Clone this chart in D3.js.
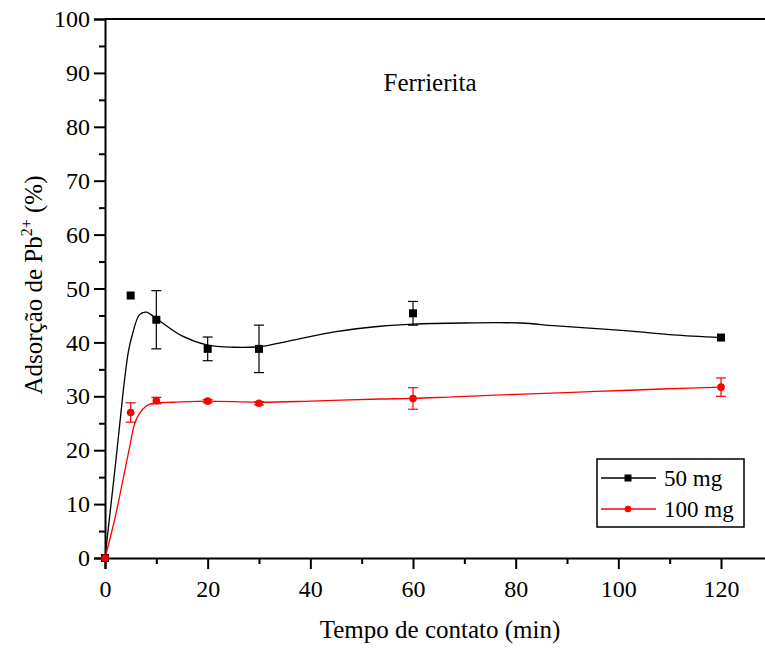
<!DOCTYPE html>
<html>
<head>
<meta charset="utf-8">
<script src="https://cdn.jsdelivr.net/npm/d3@7"></script>
</head>
<body style="margin:0;padding:0;background:#fff">
<svg id="chart" width="765" height="650" style="display:block;font-family:'Liberation Serif',serif"></svg>
<script>
// ---- data ----
const times = [0, 5, 10, 20, 30, 60, 120];
const ads50 = [0, 48.7, 44.2, 38.8, 38.8, 45.4, 40.9];
const err50 = [0, 0, 5.4, 2.2, 4.4, 2.2, 0];
const ads100 = [0, 27.0, 29.2, 29.1, 28.7, 29.6, 31.7];
const err100 = [0, 1.8, 0.6, 0.3, 0.3, 2.0, 1.7];

// fitted curves
const fit50X = [0, 1, 2, 3, 3.8, 4.6, 5.4, 6.7, 8, 10.3, 15, 20, 25, 30, 36, 45, 53.6, 60, 70, 81, 87.4, 96.5, 103.6, 110.7, 120];
const fit50Y = [0, 8.5, 17, 26, 33, 38.5, 41.7, 45.1, 45.6, 44.2, 41.2, 39.5, 39.1, 39.2, 40.3, 42.0, 43.0, 43.4, 43.6, 43.6, 43.1, 42.5, 42.0, 41.4, 40.9];
const fit100X = [0, 1.85, 3.5, 4.8, 5.8, 6.7, 8.4, 10.3, 13.2, 20, 30, 40, 53.6, 60, 67.9, 81.5, 95.8, 110.1, 120];
const fit100Y = [0, 7, 14.5, 20.6, 25, 26.8, 28.4, 28.8, 28.9, 29.1, 28.9, 29.1, 29.5, 29.6, 29.9, 30.4, 30.9, 31.4, 31.7];

const xMajor = [0, 20, 40, 60, 80, 100, 120];
const xMinor = [10, 30, 50, 70, 90, 110];
const yMajor = [0, 10, 20, 30, 40, 50, 60, 70, 80, 90, 100];
const yMinor = [5, 15, 25, 35, 45, 55, 65, 75, 85, 95];

const seriesNames = ["50 mg", "100 mg"];
const seriesColors = ["#000000", "#ff0000"];
const chartTitle = "Ferrierita";
const xTitle = "Tempo de contato (min)";

const FONT = "'Liberation Serif', 'Times New Roman', serif";

// ---- layout ----
const svg = d3.select("#chart");
const x0 = 105, xEnd = 767, y0 = 558, yTop = 19;
const pxPerUnit = (721 - 105) / 120;
const x = d3.scaleLinear().domain([0, (xEnd - x0) / pxPerUnit]).range([x0, xEnd]);
const y = d3.scaleLinear().domain([0, 100]).range([y0, yTop]);

// top frame line
svg.append("line").attr("x1", x0).attr("x2", 765).attr("y1", yTop).attr("y2", yTop)
  .attr("stroke", "#000").attr("stroke-width", 2);

// x axis
const gx = svg.append("g").attr("transform", `translate(0,${y0})`);
gx.call(d3.axisBottom(x).tickValues(xMajor).tickSize(11).tickPadding(11).tickFormat(d3.format("d")));
gx.append("g").call(d3.axisBottom(x).tickValues(xMinor).tickSize(6).tickFormat(""))
  .select(".domain").remove();
gx.selectAll(".domain").attr("stroke-width", 2);
gx.selectAll(".tick line").attr("stroke-width", 2);
gx.attr("font-family", null);
gx.selectAll(".tick text").attr("font-family", FONT).style("font-family", FONT).style("font-size", "24px");

// y axis
const gy = svg.append("g").attr("transform", `translate(${x0},0)`);
gy.call(d3.axisLeft(y).tickValues(yMajor).tickSize(11).tickPadding(4).tickFormat(d3.format("d")));
gy.append("g").call(d3.axisLeft(y).tickValues(yMinor).tickSize(6).tickFormat(""))
  .select(".domain").remove();
gy.selectAll(".domain").attr("stroke-width", 2);
gy.selectAll(".tick line").attr("stroke-width", 2);
gy.attr("font-family", null);
gy.selectAll(".tick text").attr("font-family", FONT).style("font-family", FONT).style("font-size", "24px");

// axis titles
svg.append("text").attr("x", 440).attr("y", 638).attr("text-anchor", "middle")
  .style("font-family", FONT).style("font-size", "25px").text(xTitle);
const yt = svg.append("text").attr("transform", "translate(42,285) rotate(-90)")
  .attr("text-anchor", "middle").style("font-family", FONT).style("font-size", "25px");
yt.append("tspan").text("Adsorção de Pb");
yt.append("tspan").attr("dy", -10).style("font-size", "16px").text("2+");
yt.append("tspan").attr("dy", 10).text(" (%)");

// chart title
svg.append("text").attr("x", 430).attr("y", 91).attr("text-anchor", "middle")
  .style("font-family", FONT).style("font-size", "25px").text(chartTitle);

// curves
const line = d3.line().x(d => x(d[0])).y(d => y(d[1])).curve(d3.curveCatmullRom.alpha(0.5));
const fits = [d3.zip(fit50X, fit50Y), d3.zip(fit100X, fit100Y)];
fits.forEach((f, i) => {
  svg.append("path").datum(f).attr("d", line).attr("fill", "none")
    .attr("stroke", seriesColors[i]).attr("stroke-width", 1.3);
});

// error bars + markers
const series = [
  times.map((t, i) => ({t, v: ads50[i], e: err50[i]})),
  times.map((t, i) => ({t, v: ads100[i], e: err100[i]}))
];
series.forEach((s, i) => {
  const g = svg.append("g").attr("stroke", seriesColors[i]).attr("fill", seriesColors[i]);
  s.filter(d => d.e > 0).forEach(d => {
    const cx = x(d.t), yt1 = y(d.v + d.e), yb = y(d.v - d.e);
    g.append("line").attr("x1", cx).attr("x2", cx).attr("y1", yt1).attr("y2", yb).attr("stroke-width", 1.2);
    g.append("line").attr("x1", cx - 5).attr("x2", cx + 5).attr("y1", yt1).attr("y2", yt1).attr("stroke-width", 1.2);
    g.append("line").attr("x1", cx - 5).attr("x2", cx + 5).attr("y1", yb).attr("y2", yb).attr("stroke-width", 1.2);
  });
  s.forEach(d => {
    if (i === 0) {
      g.append("rect").attr("x", x(d.t) - 4).attr("y", y(d.v) - 4)
        .attr("width", 8).attr("height", 8).attr("stroke", "none");
    } else {
      g.append("circle").attr("cx", x(d.t)).attr("cy", y(d.v)).attr("r", 3.8).attr("stroke", "none");
    }
  });
});

// legend
const lg = svg.append("g");
lg.append("rect").attr("x", 597).attr("y", 459).attr("width", 147).attr("height", 68)
  .attr("fill", "#fff").attr("stroke", "#000").attr("stroke-width", 1.5);
seriesNames.forEach((name, i) => {
  const ly = 478 + i * 31;
  lg.append("line").attr("x1", 601).attr("x2", 656).attr("y1", ly).attr("y2", ly)
    .attr("stroke", seriesColors[i]).attr("stroke-width", 1.3);
  if (i === 0) {
    lg.append("rect").attr("x", 628 - 3.5).attr("y", ly - 3.5).attr("width", 7).attr("height", 7).attr("fill", seriesColors[i]);
  } else {
    lg.append("circle").attr("cx", 628).attr("cy", ly).attr("r", 3.3).attr("fill", seriesColors[i]);
  }
  lg.append("text").attr("x", 664).attr("y", ly + 8).style("font-family", FONT).style("font-size", "23px").text(name);
});
</script>
</body>
</html>
